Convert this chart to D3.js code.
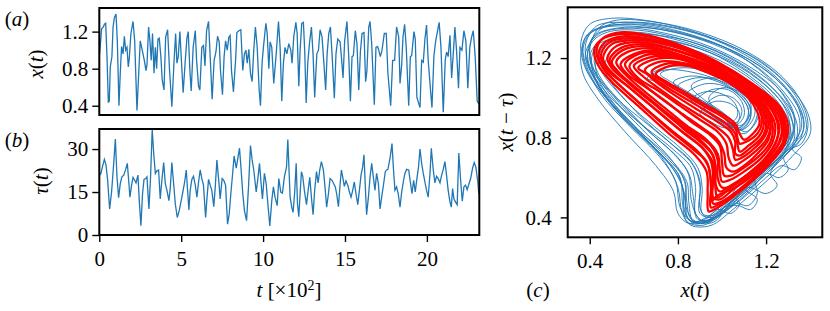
<!DOCTYPE html>
<html>
<head>
<meta charset="utf-8">
<script src="https://cdn.jsdelivr.net/npm/d3@7"></script>
<style>
  body { margin: 0; background: #fff; }
  svg text { font-family: "Liberation Serif", "DejaVu Serif", serif; fill: #000; }
</style>
</head>
<body>
<div id="chart"></div>
<script>
// x(t): time, value
var xTime = [2,14,25,31,39,47,55,61,67,77,84,92,102,110,120,128,136,145,153,161,169,177,183,193,206,216,230,242,250,262,275,285,291,301,309,317,325,334,342,350,358,366,376,384,395,405,417,429,443,456,466,474,482,492,500,512,525,535,543,553,561,573,586,594,606,614,626,636,645,655,667,677,689,701,712,722,732,740,752,762,771,781,791,799,807,819,832,840,852,864,876,886,895,903,913,923,933,943,953,964,976,984,994,1002,1017,1025,1035,1043,1053,1065,1080,1094,1104,1114,1124,1134,1145,1157,
  1169,1177,1187,1200,1208,1218,1226,1236,1246,1254,1263,1273,1283,1295,1305,1315,1328,1338,1348,1360,1370,1382,1391,1401,1411,1421,1435,1445,1456,1470,1478,1488,1498,1512,1523,1533,1543,1551,1563,1573,1584,1594,1604,1616,1626,1634,1645,1653,1663,1679,1689,1699,1706,1716,1726,1740,1752,1762,1779,1791,1803,1815,1828,1836,1846,1854,1864,1874,1889,1899,1907,1921,1929,1939,1958,1968,1978,1988,1998,2008,2023,2031,2043,2053,2063,2075,2086,2100,2112,2120,2130,2141,2151,2161,2171,2181,2193,2202,2214,2226,2238,2250,2262,2273,2283,2295,2307,2317];
var xVal = [0.96,1.23,1.25,1.28,1.29,0.93,0.44,0.45,0.82,0.93,1.25,1.35,1.39,1.10,0.40,0.75,1.04,0.96,1.15,1.00,1.03,0.82,0.91,1.18,1.31,1.10,0.35,0.80,1.10,1.00,0.89,0.78,0.84,1.25,1.10,0.89,1.18,0.75,1.03,0.80,1.12,1.13,0.93,0.68,0.57,1.14,1.22,0.78,0.39,0.87,1.18,0.86,0.93,1.20,0.93,0.54,0.89,1.13,1.20,0.78,0.56,1.03,1.21,0.89,0.61,0.57,1.03,1.05,0.83,1.21,1.31,0.93,0.47,0.89,0.98,1.15,1.09,0.78,0.52,0.93,1.10,1.00,1.14,1.16,0.78,0.55,0.89,1.19,1.21,1.22,0.78,0.96,1.00,0.86,1.01,0.75,0.66,1.00,1.25,1.03,0.57,0.40,0.87,1.03,1.29,1.18,0.80,1.09,1.03,0.64,0.96,1.31,1.03,0.45,0.86,1.03,0.96,1.07,
  1.00,0.86,1.14,1.30,1.18,0.61,1.00,1.29,1.30,1.00,0.43,0.87,1.07,1.25,0.96,0.49,0.96,1.00,1.22,1.14,0.89,0.57,0.96,1.18,1.25,0.96,0.48,0.96,1.12,1.09,0.93,0.70,1.10,1.31,0.93,0.45,0.93,0.94,1.21,1.07,0.57,0.98,1.18,1.19,0.66,0.78,1.25,1.31,1.07,0.41,1.03,1.04,1.00,0.93,1.00,1.18,1.18,0.75,0.40,0.89,0.89,1.25,1.14,0.64,0.84,1.14,1.28,1.03,0.40,0.93,0.94,1.20,1.12,0.49,0.38,0.89,0.87,1.12,1.27,0.89,0.55,0.38,0.94,1.09,1.19,1.30,1.03,0.33,0.89,0.98,0.93,1.16,0.70,0.96,1.25,1.00,0.59,1.03,1.00,1.21,1.10,0.59,1.03,1.14,1.21,0.93,0.45,0.42];

// tau(t)
var tauTime = [2,10,19,31,41,51,63,75,88,98,108,118,128,138,149,161,171,181,187,197,206,216,224,236,244,254,264,273,283,291,303,313,323,332,342,352,362,372,382,393,403,413,425,433,443,453,464,476,488,500,510,521,531,539,547,555,565,575,586,596,606,616,626,636,649,657,667,677,687,699,708,718,730,738,750,760,771,783,793,803,815,823,836,846,856,866,876,886,899,911,923,933,943,958,968,978,988,996,1008,1019,1029,1041,1053,1063,1073,1086,1096,1108,1118,1130,1143,1151,
  1165,1175,1183,1193,1202,1210,1218,1226,1234,1242,1252,1265,1275,1285,1295,1305,1315,1326,1336,1346,1356,1368,1378,1388,1399,1409,1421,1431,1441,1449,1460,1470,1478,1486,1496,1506,1517,1527,1537,1547,1557,1567,1578,1588,1598,1608,1616,1626,1632,1643,1653,1663,1673,1683,1693,1704,1714,1724,1736,1746,1754,1762,1775,1787,1795,1805,1815,1825,1836,1846,1856,1866,1876,1889,1899,1909,1919,1929,1939,1949,1958,1968,1978,1988,1998,2008,2019,2027,2039,2049,2059,2069,2080,2090,2100,2110,2120,2130,2141,2149,2157,2165,2175,2185,2195,2206,2216,2226,2236,2246,2256,2267,2279,2289,2299,2311,2317];
var tauVal = [20.9,21.5,23.8,26.4,24.4,19.1,9.1,15.0,25.0,33.5,20.3,13.0,17.9,20.3,20.9,22.9,25.0,17.9,13.2,17.4,20.1,19.1,18.2,20.9,12.0,3.2,14.4,19.4,19.7,20.3,9.1,20.3,36.8,28.6,21.5,22.4,22.7,12.6,19.1,25.3,17.9,15.6,12.0,16.2,25.3,18.5,10.9,6.1,8.5,12.0,15.0,18.5,22.7,15.6,8.7,15.6,19.4,20.5,17.4,13.2,18.5,22.7,19.7,17.4,6.1,12.6,19.4,17.4,15.6,9.9,16.8,26.2,18.5,12.6,19.7,19.1,17.4,3.8,7.3,14.4,22.1,27.6,23.3,26.8,30.3,22.7,14.4,8.5,5.0,16.8,31.2,26.2,22.7,15.0,19.7,25.0,17.9,12.6,21.5,17.9,10.9,3.2,12.0,16.8,13.2,10.3,19.7,15.0,14.6,20.3,23.8,33.3,
  13.2,9.7,7.9,15.0,25.0,10.9,6.4,14.4,22.1,20.5,15.6,10.6,15.6,20.1,13.2,7.1,15.6,22.1,18.2,22.7,25.6,22.7,16.8,9.7,14.4,19.7,19.1,17.9,16.8,14.4,9.9,17.7,22.7,20.3,17.0,18.9,17.4,15.0,13.2,15.6,18.5,14.4,10.6,15.6,20.9,23.8,28.0,14.4,7.1,13.2,20.3,25.0,20.3,15.6,21.5,17.9,9.1,13.2,17.9,22.1,22.7,22.9,26.8,31.9,23.8,15.6,16.8,14.4,9.7,15.0,18.5,21.5,22.9,22.7,18.5,14.4,19.1,15.0,19.7,23.8,30.0,25.0,21.5,18.5,15.6,13.2,21.5,30.3,22.7,18.2,20.5,19.7,18.2,20.9,22.9,25.6,20.9,15.6,11.5,9.7,16.2,12.6,11.5,10.6,28.6,19.1,11.8,16.8,17.4,15.8,17.7,19.7,23.3,25.3,23.8,18.5,14.4];

// panel (c): orbits, [x(t), x(t - tau)]
var blueOrbits = [
  [[0.36,1.28],[0.40,1.37],[0.50,1.40],[0.65,1.39],[0.82,1.35],[1.00,1.28],[1.18,1.18],[1.32,1.04],[1.39,0.92],[1.40,0.82],[1.33,0.72],[1.20,0.58],[1.05,0.44],[0.95,0.36],[0.86,0.36],[0.82,0.42],[0.80,0.55],[0.74,0.68],[0.60,0.86],[0.46,1.02],[0.38,1.15]],
  [[0.37,1.25],[0.42,1.34],[0.55,1.37],[0.72,1.35],[0.90,1.30],[1.08,1.22],[1.24,1.10],[1.35,0.96],[1.37,0.84],[1.30,0.74],[1.18,0.62],[1.06,0.50],[0.98,0.40],[0.90,0.37],[0.84,0.40],[0.83,0.52],[0.78,0.64],[0.66,0.78],[0.52,0.94],[0.41,1.10]],
  [[0.38,1.22],[0.44,1.32],[0.58,1.35],[0.76,1.32],[0.94,1.26],[1.12,1.16],[1.27,1.03],[1.33,0.90],[1.31,0.80],[1.23,0.70],[1.12,0.58],[1.02,0.46],[0.94,0.38],[0.87,0.38],[0.85,0.47],[0.84,0.58],[0.76,0.70],[0.62,0.84],[0.50,0.98],[0.42,1.10]],
  [[0.40,1.20],[0.46,1.30],[0.60,1.33],[0.80,1.29],[1.00,1.21],[1.16,1.10],[1.28,0.96],[1.31,0.84],[1.28,0.72],[1.22,0.62],[1.25,0.56],[1.20,0.52],[1.12,0.55],[1.05,0.48],[0.97,0.40],[0.89,0.39],[0.87,0.50],[0.85,0.62],[0.78,0.72],[0.64,0.86],[0.50,1.02]],
  [[0.39,1.18],[0.41,1.28],[0.48,1.33],[0.62,1.34],[0.80,1.30],[0.98,1.23],[1.15,1.12],[1.28,0.99],[1.34,0.87],[1.33,0.77],[1.26,0.68],[1.16,0.58],[1.08,0.50],[1.00,0.42],[0.92,0.38],[0.88,0.42],[0.88,0.55],[0.86,0.65],[0.78,0.74],[0.62,0.88],[0.48,1.02]],
  [[0.41,1.15],[0.43,1.26],[0.52,1.30],[0.68,1.30],[0.86,1.26],[1.04,1.18],[1.20,1.06],[1.30,0.93],[1.33,0.82],[1.32,0.74],[1.36,0.70],[1.33,0.64],[1.27,0.66],[1.20,0.60],[1.12,0.52],[1.04,0.45],[0.96,0.40],[0.90,0.42],[0.90,0.56],[0.87,0.66],[0.80,0.74],[0.66,0.87],[0.52,1.00]],
  [[0.43,1.13],[0.44,1.24],[0.54,1.29],[0.72,1.28],[0.90,1.23],[1.07,1.14],[1.21,1.02],[1.29,0.90],[1.30,0.79],[1.24,0.70],[1.15,0.60],[1.16,0.52],[1.12,0.46],[1.06,0.47],[1.02,0.44],[0.95,0.39],[0.88,0.38],[0.84,0.44],[0.83,0.58],[0.77,0.69],[0.64,0.84],[0.52,0.98]],
  [[0.37,1.20],[0.38,1.30],[0.45,1.35],[0.60,1.36],[0.78,1.33],[0.96,1.27],[1.14,1.17],[1.28,1.03],[1.35,0.90],[1.34,0.79],[1.26,0.70],[1.15,0.60],[1.03,0.48],[0.94,0.40],[0.86,0.38],[0.81,0.45],[0.79,0.58],[0.72,0.70],[0.58,0.86],[0.45,1.02]],
  [[0.40,1.24],[0.44,1.35],[0.52,1.39],[0.70,1.38],[0.90,1.33],[1.10,1.24],[1.26,1.12],[1.36,0.98],[1.39,0.86],[1.36,0.77],[1.30,0.74],[1.22,0.64],[1.10,0.52],[1.00,0.43],[0.92,0.37],[0.85,0.39],[0.83,0.50],[0.80,0.62],[0.70,0.74],[0.55,0.90],[0.44,1.06]],
  [[0.47,1.14],[0.50,1.24],[0.60,1.28],[0.76,1.26],[0.94,1.20],[1.10,1.10],[1.22,0.99],[1.28,0.87],[1.27,0.77],[1.20,0.68],[1.12,0.60],[1.05,0.52],[1.08,0.47],[1.04,0.42],[0.98,0.44],[0.93,0.40],[0.90,0.45],[0.90,0.58],[0.86,0.68],[0.76,0.78],[0.62,0.92]],
  [[0.38,1.26],[0.43,1.36],[0.56,1.38],[0.74,1.36],[0.92,1.31],[1.10,1.22],[1.25,1.10],[1.34,0.97],[1.36,0.85],[1.31,0.76],[1.22,0.66],[1.10,0.54],[1.00,0.44],[0.93,0.38],[0.87,0.37],[0.83,0.43],[0.82,0.56],[0.76,0.67],[0.63,0.82],[0.50,0.97],[0.41,1.12]],
  [[0.39,1.21],[0.42,1.31],[0.52,1.35],[0.68,1.35],[0.86,1.31],[1.04,1.24],[1.21,1.13],[1.32,1.00],[1.37,0.88],[1.35,0.78],[1.28,0.70],[1.30,0.64],[1.26,0.60],[1.20,0.62],[1.14,0.55],[1.06,0.47],[0.98,0.40],[0.91,0.36],[0.84,0.38],[0.82,0.48],[0.81,0.60],[0.73,0.71],[0.59,0.86],[0.46,1.03]],
  [[0.42,1.19],[0.45,1.29],[0.56,1.32],[0.74,1.31],[0.92,1.26],[1.09,1.17],[1.23,1.05],[1.31,0.92],[1.32,0.81],[1.27,0.72],[1.18,0.62],[1.08,0.51],[1.00,0.44],[0.99,0.40],[0.94,0.37],[0.89,0.40],[0.86,0.49],[0.85,0.61],[0.80,0.70],[0.68,0.82],[0.54,0.98],[0.45,1.10]],
  [[0.44,1.17],[0.47,1.27],[0.58,1.31],[0.76,1.29],[0.94,1.23],[1.10,1.13],[1.23,1.01],[1.30,0.89],[1.31,0.78],[1.26,0.70],[1.18,0.62],[1.10,0.55],[1.16,0.49],[1.13,0.44],[1.07,0.46],[1.01,0.45],[0.96,0.41],[0.91,0.42],[0.91,0.55],[0.89,0.65],[0.82,0.74],[0.70,0.85],[0.56,0.99]],
  [[0.36,1.22],[0.39,1.32],[0.48,1.36],[0.64,1.37],[0.82,1.33],[1.00,1.26],[1.16,1.15],[1.28,1.01],[1.33,0.88],[1.31,0.78],[1.23,0.69],[1.12,0.58],[1.01,0.47],[0.93,0.40],[0.85,0.37],[0.80,0.42],[0.78,0.53],[0.70,0.66],[0.56,0.83],[0.44,0.99],[0.37,1.12]],
  [[0.40,1.27],[0.47,1.36],[0.62,1.38],[0.80,1.35],[0.98,1.29],[1.16,1.19],[1.30,1.06],[1.37,0.93],[1.38,0.83],[1.32,0.75],[1.22,0.65],[1.10,0.53],[1.00,0.44],[0.92,0.38],[0.86,0.39],[0.84,0.48],[0.83,0.59],[0.75,0.70],[0.61,0.85],[0.49,1.00],[0.42,1.14]],
  [[0.66,1.10],[0.74,1.14],[0.86,1.13],[0.98,1.09],[1.08,1.02],[1.13,0.95],[1.12,0.88],[1.07,0.84],[1.03,0.88],[0.98,0.93],[0.90,0.98],[0.80,1.04],[0.71,1.08]],
  [[0.78,1.08],[0.86,1.11],[0.96,1.09],[1.05,1.04],[1.11,0.97],[1.12,0.90],[1.08,0.85],[1.04,0.86],[1.00,0.91],[0.92,0.96],[0.84,1.02]],
  [[0.84,1.02],[0.92,1.07],[1.01,1.06],[1.08,1.01],[1.12,0.94],[1.10,0.87],[1.05,0.84],[1.00,0.88],[0.94,0.93],[0.88,0.97]],
  [[0.88,0.98],[0.95,1.04],[1.03,1.04],[1.09,0.98],[1.10,0.91],[1.06,0.86],[1.01,0.87],[0.96,0.91],[0.91,0.94]],
  [[0.92,0.95],[0.98,1.01],[1.05,1.00],[1.09,0.94],[1.07,0.88],[1.02,0.87],[0.97,0.90]],
  [[0.72,1.12],[0.80,1.15],[0.92,1.14],[1.04,1.10],[1.13,1.03],[1.17,0.95],[1.15,0.87],[1.10,0.82],[1.06,0.84],[1.03,0.89],[0.96,0.95],[0.86,1.02],[0.77,1.08]],
  [[0.86,1.06],[0.94,1.10],[1.04,1.08],[1.12,1.01],[1.15,0.93],[1.12,0.86],[1.08,0.84],[1.05,0.88],[1.00,0.93],[0.92,0.99]],
  [[0.90,0.92],[0.96,0.98],[1.04,0.97],[1.08,0.92],[1.06,0.86],[1.01,0.85],[0.95,0.88]],
  [[0.68,1.12],[0.78,1.16],[0.90,1.15],[1.02,1.11],[1.11,1.04],[1.16,0.96],[1.15,0.88],[1.11,0.83],[1.07,0.85],[1.03,0.90],[0.95,0.96],[0.85,1.02],[0.75,1.08]],
  [[0.80,1.06],[0.88,1.10],[0.98,1.09],[1.07,1.04],[1.12,0.97],[1.13,0.90],[1.09,0.84],[1.05,0.85],[1.01,0.90],[0.94,0.95],[0.86,1.01]],
  [[0.94,1.00],[1.00,1.05],[1.08,1.03],[1.13,0.97],[1.12,0.90],[1.08,0.86],[1.03,0.88],[0.98,0.93]],
  [[0.86,0.99],[0.92,1.03],[1.00,1.02],[1.06,0.97],[1.07,0.91],[1.03,0.87],[0.98,0.89],[0.92,0.94]]
];
var redOrbits = [
  [[0.42,1.24],[0.45,1.29],[0.53,1.32],[0.66,1.31],[0.82,1.26],[0.98,1.18],[1.14,1.07],[1.26,0.96],[1.30,0.86],[1.28,0.76],[1.20,0.65],[1.08,0.53],[0.98,0.45],[0.94,0.43],[0.935,0.52],[0.93,0.63],[0.88,0.71],[0.76,0.82],[0.62,0.96],[0.50,1.08],[0.44,1.16]],
  [[0.43,1.23],[0.46,1.30],[0.55,1.33],[0.68,1.31],[0.84,1.25],[1.00,1.16],[1.15,1.05],[1.25,0.95],[1.28,0.85],[1.27,0.75],[1.20,0.66],[1.09,0.55],[1.00,0.48],[0.96,0.47],[0.95,0.58],[0.93,0.68],[0.87,0.74],[0.75,0.85],[0.61,0.99],[0.50,1.10],[0.45,1.17]],
  [[0.44,1.22],[0.47,1.28],[0.56,1.31],[0.70,1.29],[0.86,1.24],[1.02,1.15],[1.17,1.04],[1.27,0.93],[1.29,0.83],[1.26,0.74],[1.18,0.64],[1.07,0.53],[0.99,0.47],[0.95,0.45],[0.95,0.55],[0.94,0.65],[0.90,0.72],[0.79,0.82],[0.65,0.95],[0.53,1.07],[0.46,1.15]],
  [[0.45,1.21],[0.49,1.28],[0.58,1.30],[0.72,1.28],[0.88,1.22],[1.04,1.13],[1.18,1.02],[1.27,0.91],[1.29,0.81],[1.24,0.72],[1.16,0.63],[1.06,0.55],[0.98,0.51],[0.95,0.48],[0.96,0.58],[0.96,0.67],[0.92,0.74],[0.83,0.82],[0.70,0.94],[0.57,1.06],[0.48,1.14]],
  [[0.46,1.20],[0.50,1.27],[0.60,1.29],[0.74,1.27],[0.90,1.21],[1.05,1.12],[1.18,1.01],[1.26,0.90],[1.27,0.80],[1.22,0.71],[1.14,0.62],[1.05,0.54],[0.99,0.49],[0.96,0.50],[0.96,0.60],[0.95,0.68],[0.91,0.75],[0.81,0.84],[0.68,0.96],[0.56,1.07],[0.49,1.14]],
  [[0.48,1.20],[0.52,1.26],[0.62,1.28],[0.76,1.25],[0.92,1.19],[1.06,1.10],[1.19,1.00],[1.27,0.88],[1.26,0.78],[1.21,0.70],[1.13,0.62],[1.05,0.56],[1.00,0.55],[0.98,0.60],[0.98,0.69],[0.95,0.76],[0.88,0.82],[0.78,0.90],[0.66,1.00],[0.56,1.09],[0.50,1.15]],
  [[0.49,1.19],[0.54,1.25],[0.64,1.27],[0.78,1.24],[0.93,1.18],[1.07,1.09],[1.19,0.99],[1.25,0.88],[1.25,0.79],[1.20,0.70],[1.12,0.62],[1.04,0.56],[0.99,0.53],[0.97,0.57],[0.97,0.66],[0.95,0.73],[0.89,0.80],[0.79,0.88],[0.68,0.98],[0.58,1.07],[0.52,1.14]],
  [[0.50,1.18],[0.55,1.24],[0.66,1.26],[0.80,1.22],[0.95,1.16],[1.08,1.08],[1.20,0.98],[1.26,0.86],[1.24,0.77],[1.19,0.69],[1.11,0.61],[1.03,0.54],[0.98,0.50],[0.97,0.55],[0.97,0.64],[0.96,0.71],[0.91,0.77],[0.82,0.85],[0.71,0.96],[0.60,1.06],[0.53,1.13]],
  [[0.52,1.18],[0.57,1.23],[0.68,1.25],[0.82,1.21],[0.96,1.15],[1.09,1.07],[1.19,0.97],[1.24,0.87],[1.23,0.78],[1.18,0.70],[1.10,0.63],[1.04,0.59],[1.00,0.58],[0.99,0.64],[0.98,0.72],[0.93,0.79],[0.84,0.86],[0.74,0.95],[0.64,1.04],[0.56,1.12]],
  [[0.54,1.17],[0.60,1.22],[0.70,1.24],[0.84,1.20],[0.97,1.14],[1.10,1.06],[1.20,0.96],[1.23,0.86],[1.22,0.78],[1.17,0.71],[1.10,0.65],[1.04,0.61],[1.01,0.61],[1.00,0.68],[0.99,0.76],[0.94,0.82],[0.86,0.88],[0.76,0.97],[0.66,1.05],[0.57,1.12]],
  [[0.56,1.17],[0.62,1.22],[0.72,1.23],[0.85,1.19],[0.98,1.13],[1.10,1.05],[1.19,0.96],[1.22,0.87],[1.21,0.79],[1.16,0.72],[1.10,0.66],[1.05,0.63],[1.02,0.65],[1.01,0.72],[0.98,0.79],[0.91,0.85],[0.82,0.92],[0.72,1.00],[0.63,1.08],[0.58,1.13]],
  [[0.58,1.16],[0.64,1.21],[0.74,1.22],[0.87,1.18],[0.99,1.12],[1.11,1.04],[1.19,0.95],[1.22,0.86],[1.20,0.79],[1.15,0.73],[1.09,0.68],[1.05,0.66],[1.03,0.70],[1.02,0.77],[0.98,0.83],[0.90,0.89],[0.81,0.96],[0.72,1.03],[0.62,1.10]],
  [[0.60,1.16],[0.66,1.20],[0.76,1.21],[0.88,1.17],[1.00,1.11],[1.11,1.03],[1.18,0.95],[1.21,0.87],[1.19,0.80],[1.14,0.74],[1.09,0.70],[1.06,0.69],[1.05,0.74],[1.03,0.80],[0.98,0.85],[0.90,0.91],[0.80,0.98],[0.71,1.05],[0.64,1.11]],
  [[0.62,1.15],[0.68,1.19],[0.78,1.20],[0.90,1.16],[1.01,1.10],[1.11,1.02],[1.18,0.94],[1.20,0.86],[1.18,0.80],[1.13,0.75],[1.08,0.71],[1.06,0.72],[1.06,0.78],[1.04,0.83],[0.98,0.88],[0.89,0.94],[0.79,1.01],[0.70,1.08],[0.66,1.12]],
  [[0.65,1.14],[0.71,1.18],[0.80,1.18],[0.91,1.15],[1.02,1.09],[1.11,1.02],[1.17,0.94],[1.19,0.87],[1.17,0.81],[1.12,0.76],[1.08,0.73],[1.07,0.77],[1.06,0.82],[1.02,0.87],[0.95,0.92],[0.86,0.98],[0.77,1.04],[0.69,1.10]],
  [[0.68,1.13],[0.74,1.17],[0.83,1.17],[0.93,1.13],[1.03,1.08],[1.12,1.01],[1.17,0.94],[1.18,0.87],[1.16,0.82],[1.11,0.78],[1.08,0.77],[1.07,0.80],[1.06,0.85],[1.01,0.90],[0.93,0.95],[0.84,1.01],[0.75,1.07]],
  [[0.70,1.12],[0.76,1.16],[0.85,1.16],[0.95,1.12],[1.04,1.07],[1.12,1.00],[1.16,0.93],[1.17,0.87],[1.14,0.82],[1.10,0.79],[1.08,0.82],[1.06,0.87],[1.00,0.92],[0.92,0.97],[0.83,1.03],[0.75,1.08]]
];

var tTicks = [0, 500, 1000, 1500, 2000];
var xTicks = [0.4, 0.8, 1.2];
var tauTicks = [0, 15, 30];

var blue = "#1f77b4";
var W = 830, H = 311;

var svg = d3.select("#chart").append("svg")
  .attr("width", W).attr("height", H);

var tScale = d3.scaleLinear().domain([0, 2320]).range([99.3, 479.3]);
var yA = d3.scaleLinear().domain([0.3, 1.455]).range([115, 8]);
var yB = d3.scaleLinear().domain([0, 37]).range([235, 129]);
var xC = d3.scaleLinear().domain([0.3, 1.455]).range([567.7, 822.3]);
var yC = d3.scaleLinear().domain([0.3, 1.455]).range([237.3, 7.3]);

function clip(id, x0, x1, y0, y1) {
  svg.append("clipPath").attr("id", id).append("rect")
    .attr("x", x0).attr("y", y0).attr("width", x1 - x0).attr("height", y1 - y0);
}
clip("ca", 99.3, 479.3, 8, 115);
clip("cb", 99.3, 479.3, 129, 235);
clip("cc", 567.7, 822.3, 7.3, 237.3);

function styleAxis(g) {
  g.select(".domain").remove();
  g.selectAll(".tick line").attr("stroke", "#000").attr("stroke-width", 1.4);
  g.selectAll(".tick text").style("font-size", "21px").attr("fill", "#000");
}

// panel (a)
var lineA = d3.line().x(function(d, i) { return tScale(xTime[i]); }).y(function(d) { return yA(d); });
svg.append("path").datum(xVal).attr("d", lineA)
  .attr("fill", "none").attr("stroke", blue).attr("stroke-width", 1.3)
  .attr("clip-path", "url(#ca)");
svg.append("g").attr("transform", "translate(99.3,0)")
  .call(d3.axisLeft(yA).tickValues(xTicks).tickSize(7).tickPadding(4).tickFormat(d3.format(".1f")))
  .call(styleAxis);
svg.append("rect").attr("x", 99.3).attr("y", 8).attr("width", 380).attr("height", 107)
  .attr("fill", "none").attr("stroke", "#000").attr("stroke-width", 2);

// panel (b)
var lineB = d3.line().x(function(d, i) { return tScale(tauTime[i]); }).y(function(d) { return yB(d); });
svg.append("path").datum(tauVal).attr("d", lineB)
  .attr("fill", "none").attr("stroke", blue).attr("stroke-width", 1.3)
  .attr("clip-path", "url(#cb)");
svg.append("g").attr("transform", "translate(99.3,0)")
  .call(d3.axisLeft(yB).tickValues(tauTicks).tickSize(7).tickPadding(4))
  .call(styleAxis);
svg.append("g").attr("transform", "translate(0,235)")
  .call(d3.axisBottom(tScale).tickValues(tTicks).tickSize(7).tickPadding(9).tickFormat(function(d) { return d / 100; }))
  .call(styleAxis);
svg.append("rect").attr("x", 99.3).attr("y", 129).attr("width", 380).attr("height", 106)
  .attr("fill", "none").attr("stroke", "#000").attr("stroke-width", 2);

// panel (c)
var loop = d3.line().x(function(d) { return xC(d[0]); }).y(function(d) { return yC(d[1]); })
  .curve(d3.curveCatmullRomClosed);
var gc = svg.append("g").attr("clip-path", "url(#cc)");
gc.selectAll("path.b").data(blueOrbits).enter().append("path").attr("class", "b")
  .attr("d", loop).attr("fill", "none").attr("stroke", blue).attr("stroke-width", 0.9);
gc.selectAll("path.r").data(redOrbits).enter().append("path").attr("class", "r")
  .attr("d", loop).attr("fill", "none").attr("stroke", "#ff0000").attr("stroke-width", 2.3);
svg.append("g").attr("transform", "translate(567.7,0)")
  .call(d3.axisLeft(yC).tickValues(xTicks).tickSize(7).tickPadding(9).tickFormat(d3.format(".1f")))
  .call(styleAxis);
svg.append("g").attr("transform", "translate(0,237.3)")
  .call(d3.axisBottom(xC).tickValues(xTicks).tickSize(7).tickPadding(9).tickFormat(d3.format(".1f")))
  .call(styleAxis);
svg.append("rect").attr("x", 567.7).attr("y", 7.3).attr("width", 254.6).attr("height", 230)
  .attr("fill", "none").attr("stroke", "#000").attr("stroke-width", 2);

// labels
function label(x, y, parts, rot) {
  var t = svg.append("text").attr("text-anchor", "middle").style("font-size", "21px")
    .attr("transform", "translate(" + x + "," + y + ")" + (rot ? " rotate(-90)" : ""));
  parts.forEach(function(p) {
    var s = t.append("tspan").text(p[0]);
    if (p[1]) s.style("font-style", "italic");
    if (p[2]) s.attr("baseline-shift", "super").style("font-size", "14px");
  });
}
label(17, 26, [["("], ["a", 1], [")"]]);
label(17, 147, [["("], ["b", 1], [")"]]);
label(538, 297, [["("], ["c", 1], [")"]]);
label(43, 64, [["x", 1], ["("], ["t", 1], [")"]], true);
label(48, 181, [["τ", 1], ["("], ["t", 1], [")"]], true);
label(513, 122, [["x", 1], ["("], ["t", 1], [" − "], ["τ", 1], [")"]], true);
label(289, 297, [["t", 1], [" [×10"], ["2", 0, 1], ["]"]]);
label(695, 297, [["x", 1], ["("], ["t", 1], [")"]]);
</script>
</body>
</html>
